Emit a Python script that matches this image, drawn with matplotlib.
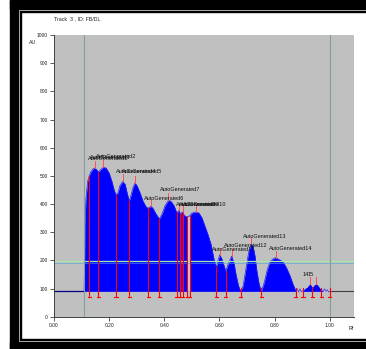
import matplotlib
matplotlib.use("Agg")
import matplotlib.pyplot as plt
import numpy as np
from matplotlib.patches import Rectangle

# профиль трека: Rf и интенсивность (AU)
rf = np.array([0.109, 0.111, 0.112, 0.116, 0.122, 0.128, 0.134, 0.142, 0.149, 0.156,
               0.161, 0.167, 0.178, 0.189, 0.200, 0.210, 0.218, 0.225, 0.232, 0.239,
               0.249, 0.258, 0.265, 0.273, 0.279, 0.287, 0.294, 0.301, 0.312, 0.323,
               0.334, 0.342, 0.351, 0.359, 0.370, 0.382, 0.392, 0.403, 0.415, 0.424,
               0.435, 0.445, 0.450, 0.454, 0.457, 0.467, 0.472, 0.479, 0.483, 0.492,
               0.500, 0.515, 0.526, 0.537, 0.548, 0.559, 0.570, 0.580, 0.589, 0.595,
               0.601, 0.609, 0.617, 0.623, 0.631, 0.644, 0.653, 0.660, 0.669, 0.677,
               0.686, 0.696, 0.707, 0.715, 0.722, 0.729, 0.736, 0.744, 0.752, 0.762,
               0.773, 0.783, 0.794, 0.804, 0.812, 0.823, 0.834, 0.845, 0.856, 0.867,
               0.877])
au = np.array([90, 200, 330, 420, 480, 500, 515, 525, 528, 520,
               513, 520, 530, 528, 510, 480, 450, 432, 440, 465,
               480, 470, 440, 410, 430, 460, 475, 465, 440, 410,
               390, 385, 392, 385, 365, 347, 365, 395, 413, 410,
               395, 370, 372, 378, 365, 372, 360, 355, 355, 358,
               368, 372, 368, 350, 320, 290, 255, 205, 175, 200,
               220, 205, 180, 162, 185, 215, 190, 150, 110, 90,
               110, 170, 235, 258, 250, 215, 160, 115, 90, 120,
               165, 195, 205, 210, 205, 200, 190, 170, 145, 115,
               92])

# маленькие пики у фронта
rf_small = np.array([0.903, 0.910, 0.918, 0.928, 0.932, 0.937, 0.943, 0.951, 0.958, 0.965, 0.970, 0.976])
au_small = np.array([93, 100, 105, 117, 112, 104, 112, 117, 110, 100, 95, 92])

# участки без заливки (шум у базовой линии)
rf_noise1 = np.array([0.877, 0.882, 0.887, 0.892, 0.897, 0.903])
au_noise1 = np.array([92, 99, 88, 99, 88, 93])
rf_noise2 = np.array([0.976, 0.981, 0.986, 0.991, 0.996, 1.000])
au_noise2 = np.array([92, 99, 90, 96, 88, 90])

# границы пиков и вершины
bounds = [0.128, 0.161, 0.225, 0.273, 0.342, 0.382, 0.445, 0.457, 0.467, 0.483,
          0.492, 0.589, 0.623, 0.677, 0.752, 0.877, 0.903, 0.937, 0.969, 1.000]
tops = [0.149, 0.178, 0.249, 0.294, 0.351, 0.415, 0.454, 0.467, 0.515, 0.601,
        0.644, 0.715, 0.804, 0.928, 0.951]

labels = ["AutoGenerated1", "AutoGenerated2", "AutoGenerated3", "AutoGenerated4",
          "AutoGenerated5", "AutoGenerated6", "AutoGenerated7", "AutoGenerated8",
          "AutoGenerated9", "AutoGenerated10", "AutoGenerated11", "AutoGenerated12",
          "AutoGenerated13", "AutoGenerated14", "14", "15"]
label_rf = [0.123, 0.152, 0.131, 0.225, 0.247, 0.326, 0.384, 0.443, 0.453, 0.468,
            0.573, 0.617, 0.686, 0.780, 0.900, 0.921]
label_au = [563, 570, 566, 514, 517, 421, 453, 397, 397, 397, 240, 254, 286, 243, 151, 151]

yticks = [0, 100, 200, 300, 400, 500, 600, 700, 800, 900, 1000]
xticks = [0.0, 0.2, 0.4, 0.6, 0.8, 1.0]
baseline = 90
green_level = 196
blue_level = 191

W, H = 366, 349
fig = plt.figure(figsize=(W / 100, H / 100), dpi=100)
fig.patch.set_facecolor("white")


def px_rect(x0, y0, x1, y1, **kw):
    # прямоугольник в пикселях (y сверху вниз)
    fig.patches.append(Rectangle((x0 / W, 1 - y1 / H), (x1 - x0) / W, (y1 - y0) / H,
                                 transform=fig.transFigure, **kw))


# рамка
px_rect(10, 0, W, 9, color="black")
px_rect(10, 0, 18, H, color="black")
px_rect(10, 342, W, H, color="black")
px_rect(20, 10.8, W, 12, color="black")
px_rect(20, 10.8, 21.2, 340, color="black")
px_rect(20, 338.8, W, 340, color="black")

ax = fig.add_axes([54 / W, 1 - 316.7 / H, 300 / W, (316.7 - 35) / H])
ax.set_facecolor("#c0c0c0")
ax.set_xlim(0, 1.088)
ax.set_ylim(0, 1000)

# базовая линия
ax.plot([0, rf[0]], [baseline, baseline], color="#000080", lw=0.9)
ax.plot([1.0, 1.088], [baseline, baseline], color="#404040", lw=0.8)

# заливка профиля
ax.fill_between(rf, baseline, au, color="#0000ff", lw=0)
ax.plot(rf, au, color="#2020ff", lw=0.5)
ax.fill_between(rf_small, baseline, au_small, color="#0000ff", lw=0)
ax.plot(rf_noise1, au_noise1, color="#3030ff", lw=0.5)
ax.plot(rf_noise2, au_noise2, color="#3030ff", lw=0.5)

# выделенные узкие пики
m1 = (rf >= bounds[7]) & (rf <= bounds[8])
ax.fill_between(rf[m1], baseline, au[m1], color="#7000c0", lw=0)
m2 = (rf >= bounds[9]) & (rf <= bounds[10])
ax.fill_between(rf[m2], baseline, au[m2], color="#e8c0b0", lw=0)

# горизонтальные уровни
ax.axhline(green_level, color="#a8e8a8", lw=0.9)
ax.axhline(blue_level, color="#4aa0e0", lw=0.5, alpha=0.8)

# вертикальные линии старта и фронта
ax.axvline(rf[0], color="#7fa0a0", lw=0.8)
ax.axvline(1.0, color="#7fa0a0", lw=0.8)

# границы пиков
all_rf = np.concatenate([rf, rf_small])
all_au = np.concatenate([au, au_small])
order = np.argsort(all_rf)
all_rf, all_au = all_rf[order], all_au[order]
for b in bounds:
    top = max(np.interp(b, all_rf, all_au, left=baseline, right=baseline), 102)
    ax.plot([b, b], [71, top], color="#ff0000", lw=0.8)
    ax.plot([b - 0.006, b + 0.006], [71, 71], color="#ff0000", lw=0.8)

# метки вершин
for t in tops:
    v = np.interp(t, all_rf, all_au)
    ax.plot([t, t], [v, v + 25], color="#ff5050", lw=0.7)

for lab, x, y in zip(labels, label_rf, label_au):
    ax.text(x, y, lab, fontsize=4.0, family="Liberation Sans", va="center", ha="left",
            color="#101010")

ax.set_yticks(yticks)
ax.set_yticklabels([str(v) for v in yticks])
ax.set_xticks(xticks)
ax.set_xticklabels(["%.2f" % v for v in xticks])
ax.tick_params(labelsize=3.5, length=3, width=0.6, color="#404040", pad=1.5,
               labelcolor="#202020")
for lab in ax.get_xticklabels() + ax.get_yticklabels():
    lab.set_family("Liberation Sans")
for s in ["top", "right"]:
    ax.spines[s].set_visible(False)
for s in ["left", "bottom"]:
    ax.spines[s].set_color("#404040")
    ax.spines[s].set_linewidth(0.7)

fig.text(54 / W, 1 - 19 / H, "Track  3 , ID: FB/DL", fontsize=3.8, family="Liberation Sans",
         va="center", ha="left", color="#202020")
fig.text(29 / W, 1 - 42.5 / H, "AU", fontsize=3.8, family="Liberation Sans",
         va="center", ha="left", color="#202020")
fig.text(349 / W, 1 - 329 / H, "Rf", fontsize=3.8, family="Liberation Sans",
         va="center", ha="left", color="#202020")

fig.savefig("out.png", dpi=100)
